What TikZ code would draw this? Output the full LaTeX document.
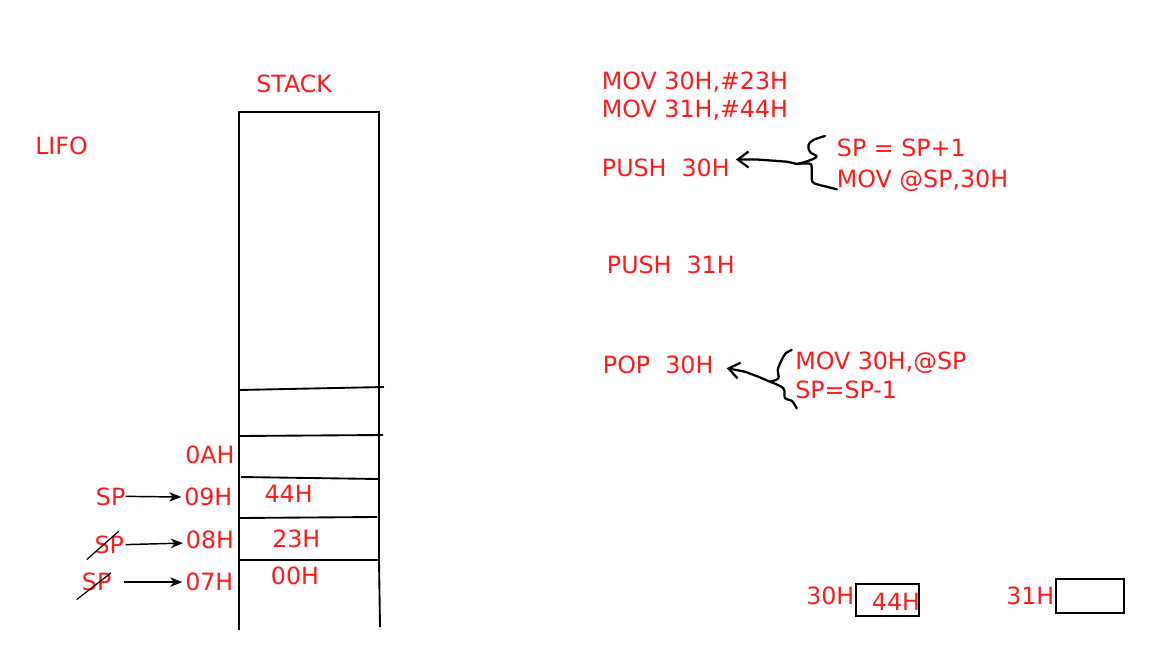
\documentclass[tikz,border=0pt]{standalone}
\usepackage{fontspec}
\setmainfont{DejaVu Sans}
\usetikzlibrary{calc}
\usetikzlibrary{positioning}
\usetikzlibrary{arrows.meta}
\definecolor{note}{RGB}{255,26,26}
\tikzset{
	>={Stealth[length=9pt,width=7pt,inset=2.5pt]},
	redtext/.style={
		text=note,
		inner sep=0pt,
		anchor=base west,
		font=\fontsize{17.8}{21}\selectfont},
	cellline/.style={draw=black, line width=1.4pt},
	pointer/.style={draw, line width=1.1pt, ->, shorten >=2pt},
	strike/.style={draw, line width=0.9pt},
	scribble/.style={draw, line width=1.7pt, line cap=round, line join=round},
	handtip/.style={-{Straight Barb[length=8pt,width=12pt]}},
	memcell/.style={
		rectangle,
		draw=black, line width=1.4pt,
		inner sep=0pt},
}

\begin{document}
\begin{tikzpicture}[x=0.75pt, y=-0.75pt]
	\useasboundingbox (0,0) rectangle (1168,657);
	% the stack
	\draw[cellline] (239,630) -- (239,112) -- (379,112) -- (379,560) -- (380,627);
	\draw[cellline] (239,390) -- (384,387);
	\draw[cellline] (239,436) -- (383,435);
	\draw[cellline] (241,477) -- (378,479);
	\draw[cellline] (239,518) -- (377,517);
	\draw[cellline] (239,560) -- (379,560);
	\node[redtext] (lifo) at (35,154) {LIFO};
	\node[redtext] (stack) at (256,92) {STACK};
	\node[redtext] (adrA) at (185,463.3) {0AH};
	\node[redtext] (adr9) at (184,505.7) {09H};
	\node[redtext] (adr8) at (185.7,548.3) {08H};
	\node[redtext] (adr7) at (185,590.7) {07H};
	\node[redtext] (val44) at (264.3,502) {44H};
	\node[redtext] (val23) at (272,547.7) {23H};
	\node[redtext] (val00) at (270.7,584) {00H};
	% stack pointer
	\node[redtext] (sp9) at (95.7,505) {SP};
	\node[redtext] (sp8) at (94.3,553.3) {SP};
	\node[redtext] (sp7) at (81.7,590.7) {SP};
	\draw[pointer] (sp9.east) -- (adr9.west);
	\draw[pointer, shorten <=1pt] (sp8.east) -- ([yshift=-2.5pt]adr8.west);
	\draw[pointer, shorten <=9pt] (sp7.east) -- (adr7.west);
	\draw[strike] ($(sp8.south west)+(-7.6,5.7)$) -- ($(sp8.north east)+(-5.3,-4.3)$);
	\draw[strike] ($(sp7.south west)+(-5,8.3)$) -- ($(sp7.north east)+(-0.5,0)$);
	% program
	\node[redtext] (movA) at (601.7,89.3) {MOV 30H,\#23H};
	\node[redtext] (movB) at (601.7,117.3) {MOV 31H,\#44H};
	\node[redtext] (pushA) at (601.7,176.7) {PUSH~~30H};
	\node[redtext] (incsp) at (836.7,156) {SP = SP+1};
	\node[redtext] (store) at (836.7,187.7) {MOV @SP,30H};
	\node[redtext] (pushB) at (606.7,273.3) {PUSH~~31H};
	\node[redtext] (pop) at (602.7,373.3) {POP~~30H};
	\node[redtext] (load) at (795,369.3) {MOV 30H,@SP};
	\node[redtext] (decsp) at (795,398.3) {SP=SP-1};
	% hand drawn braces
	\coordinate (pushbrace) at (797,164);
	\draw[scribble] plot[smooth, tension=0.6] coordinates {(pushbrace) (808,161) (816.7,156.5) (810,152) (808.5,145) (813.3,140) (825,136)};
	\draw[scribble] plot[smooth, tension=0.4] coordinates {(pushbrace) (811,164.3) (812.5,182) (826.7,186.7) (836.7,189.3)};
	\draw[scribble, handtip] (pushbrace) -- (787,161.7) -- (757,159.5) -- ([shift={(6,-8.5)}]pushA.east);
	\coordinate (popbrace) at (770,381.7);
	\draw[scribble] plot[smooth, tension=0.6] coordinates {(popbrace) (778.3,378.3) (777.7,370) (781.7,360) (785.7,353.3) (791.7,350)};
	\draw[scribble] plot[smooth, tension=0.6] coordinates {(popbrace) (783.3,388.3) (785,398.3) (791.7,400.7) (796.7,408.3)};
	\draw[scribble, handtip] (popbrace) -- (758.3,376.7) -- (745,371.7) -- ([shift={(13,3.5)}]pop.east);
	% internal RAM
	\node[redtext] (lbl30) at (806,604.3) {30H};
	\node[memcell, minimum width=47pt, minimum height=23.8pt] (reg30) at (887.4,599.9) {};
	\node[redtext] (val30) at (871.7,610) {44H};
	\node[redtext] (lbl31) at (1006,604.3) {31H};
	\node[memcell, minimum width=51pt, minimum height=25.3pt] (reg31) at (1089.7,595.9) {};
\end{tikzpicture}
\end{document}
